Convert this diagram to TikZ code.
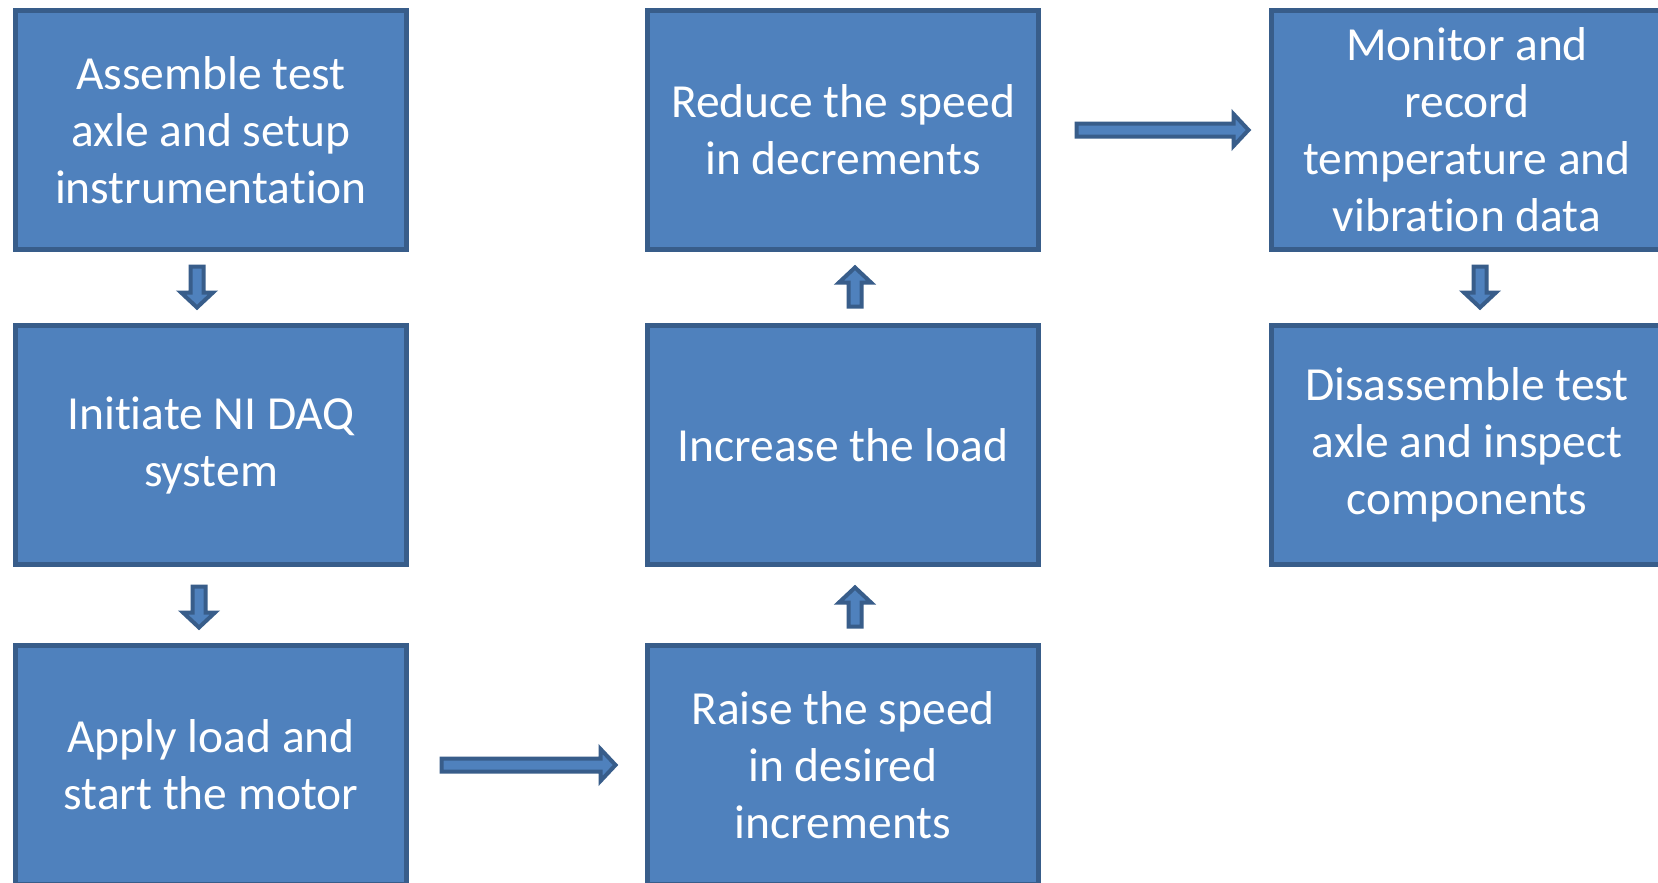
\documentclass[tikz,border=0pt]{standalone}
\usepackage{fontspec}
\setmainfont{Carlito}[Ligatures=NoCommon]
\usetikzlibrary{calc}
\newcommand\tI{t\kern0pt i}
\definecolor{boxfill}{HTML}{4F81BD}
\definecolor{boxline}{HTML}{385D8A}
\tikzset{
  stepbox/.style={draw=boxline, fill=boxfill, line width=5pt,
    minimum width=391pt, minimum height=239pt, inner sep=0pt,
    text=white, align=center, font=\fontsize{47.5}{57}\selectfont},
  blkarr/.style={draw=boxline, fill=boxfill, line width=4pt, line join=miter}
}
\newcommand\blkarrow[2]{%
\draw[blkarr] let \p1=(#1), \p2=(#2), \n1={veclen(\x2-\x1,\y2-\y1)},
  \n2={(\x2-\x1)/\n1}, \n3={(\y2-\y1)/\n1}, \n4={\n1-18} in
  ({\x1-6.5*(\n3)},{\y1+6.5*(\n2)}) --
  ({\x1+\n4*(\n2)-6.5*(\n3)},{\y1+\n4*(\n3)+6.5*(\n2)}) --
  ({\x1+\n4*(\n2)-16*(\n3)},{\y1+\n4*(\n3)+16*(\n2)}) --
  ({\x1+(\n1-3)*(\n2)},{\y1+(\n1-3)*(\n3)}) --
  ({\x1+\n4*(\n2)+16*(\n3)},{\y1+\n4*(\n3)-16*(\n2)}) --
  ({\x1+\n4*(\n2)+6.5*(\n3)},{\y1+\n4*(\n3)-6.5*(\n2)}) --
  ({\x1+6.5*(\n3)},{\y1-6.5*(\n2)}) -- cycle;}
\begin{document}
\begin{tikzpicture}[x=1pt,y=-1pt]
\useasboundingbox[fill=white] (0,0) rectangle (1658,883);
\node[stepbox] (a1) at (211,130) {Assemble test\\axle and setup\\instrumenta\tI{}on};
\node[stepbox] (a2) at (211,445) {Ini\tI{}ate NI DAQ\\system};
\node[stepbox] (a3) at (211,765) {Apply load and\\start the motor};
\node[stepbox] (b1) at (843,130) {Reduce the speed\\in decrements};
\node[stepbox] (b2) at (843,445) {Increase the load};
\node[stepbox] (b3) at (843,765) {Raise the speed\\in desired\\increments};
\node[stepbox] (c1) at (1467,130) {Monitor and\\record\\temperature and\\vibra\tI{}on data};
\node[stepbox] (c2) at (1467,445) {Disassemble test\\axle and inspect\\components};
\coordinate (a1s) at ($(a1.south)+(-14,14.5)$);
\coordinate (a2n) at ($(a2.north)+(-14,-12.5)$);
\coordinate (a2s) at ($(a2.south)+(-12,19.5)$);
\coordinate (a3n) at ($(a3.north)+(-12,-12.5)$);
\coordinate (a3e) at ($(a3.east)+(32.5,0)$);
\coordinate (b3w) at ($(b3.west)+(-26.5,0)$);
\coordinate (b3n) at ($(b3.north)+(12,-16.5)$);
\coordinate (b2s) at ($(b2.south)+(12,17.5)$);
\coordinate (b2n) at ($(b2.north)+(12,-16.5)$);
\coordinate (b1s) at ($(b1.south)+(12,12.5)$);
\coordinate (b1e) at ($(b1.east)+(35.5,0)$);
\coordinate (c1w) at ($(c1.west)+(-17.5,0)$);
\coordinate (c1s) at ($(c1.south)+(13,14.5)$);
\coordinate (c2n) at ($(c2.north)+(13,-12.5)$);
\blkarrow{a1s}{a2n}
\blkarrow{a2s}{a3n}
\blkarrow{a3e}{b3w}
\blkarrow{b3n}{b2s}
\blkarrow{b2n}{b1s}
\blkarrow{b1e}{c1w}
\blkarrow{c1s}{c2n}
\end{tikzpicture}
\end{document}
